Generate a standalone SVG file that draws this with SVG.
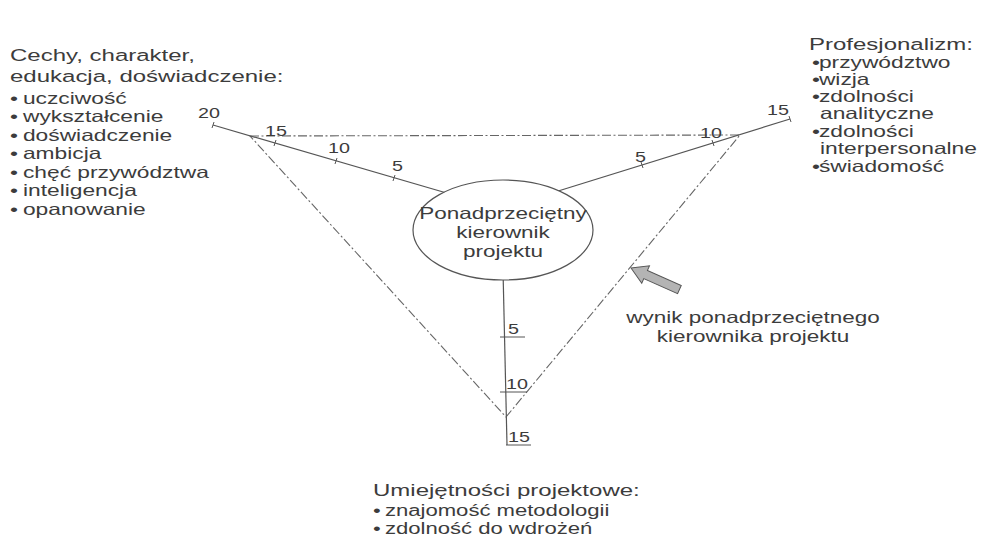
<svg xmlns="http://www.w3.org/2000/svg" width="983" height="539" viewBox="0 0 983 539">
  <style>
    text { font-family: "Liberation Sans", Arial, sans-serif; fill: #3c3c3c; }
    .h { font-size: 17.4px; }
    .b { font-size: 16.5px; }
    .s { font-size: 16px; }
    .n { font-size: 14.3px; }
    .c { font-size: 16.3px; text-anchor: middle; }
    .axis { stroke: #555; stroke-width: 1.2; fill: none; }
    .tick { stroke: #555; stroke-width: 1; fill: none; }
    .tri { stroke: #666; stroke-width: 1.1; fill: none; stroke-dasharray: 9 2.5 2 2.5; }
  </style>
  <rect width="983" height="539" fill="#fff"/>

  <!-- axes, scale ticks and the dash-dot result triangle -->
  <g id="connectors">
    <polygon class="tri" points="250,136 740,135 506,417"/>
    <line class="axis" x1="213" y1="125" x2="450" y2="194"/>
    <line class="axis" x1="555" y1="192" x2="790" y2="119"/>
    <line class="axis" x1="503" y1="270" x2="507" y2="445"/>
    <!-- left axis ticks -->
    <path class="tick" d="M214,122 L212,128 M276,140 L274,146 M337,158 L335,164 M395,175 L393,181"/>
    <!-- right axis ticks -->
    <path class="tick" d="M641,162 L643,168 M712,140 L714,146 M789,116 L791,122"/>
    <!-- bottom axis ticks -->
    <path class="tick" d="M500,337 L525,337 M500,392 L527,392 M506,445 L531,445"/>
  </g>

  <!-- scale values -->
  <g id="scale-labels">
    <g transform="translate(198 118) scale(1.38 1)"><text class="n">20</text></g>
    <g transform="translate(265 136) scale(1.38 1)"><text class="n">15</text></g>
    <g transform="translate(328 153) scale(1.38 1)"><text class="n">10</text></g>
    <g transform="translate(392 171) scale(1.38 1)"><text class="n">5</text></g>
    <g transform="translate(635 162) scale(1.38 1)"><text class="n">5</text></g>
    <g transform="translate(700 138) scale(1.38 1)"><text class="n">10</text></g>
    <g transform="translate(767 115) scale(1.38 1)"><text class="n">15</text></g>
    <g transform="translate(508 334) scale(1.38 1)"><text class="n">5</text></g>
    <g transform="translate(506 389) scale(1.38 1)"><text class="n">10</text></g>
    <g transform="translate(508 442) scale(1.38 1)"><text class="n">15</text></g>
  </g>

  <!-- central node -->
  <g id="node-center">
    <ellipse cx="503" cy="230" rx="90" ry="50" fill="#fff" stroke="#555" stroke-width="1.2"/>
    <g transform="translate(503 0) scale(1.38 1)">
      <text class="c" x="0" y="219">Ponadprzeciętny</text>
      <text class="c" x="0" y="238">kierownik</text>
      <text class="c" x="0" y="257">projektu</text>
    </g>
  </g>

  <!-- left: traits -->
  <g id="node-traits" transform="translate(10 0) scale(1.38 1)">
    <text class="h" x="0" y="61">Cechy, charakter,</text>
    <text class="h" x="0" y="82">edukacja, doświadczenie:</text>
    <text class="b" y="104"><tspan x="0">•</tspan><tspan x="9.4">uczciwość</tspan></text>
    <text class="b" y="122.5"><tspan x="0">•</tspan><tspan x="9.4">wykształcenie</tspan></text>
    <text class="b" y="141"><tspan x="0">•</tspan><tspan x="9.4">doświadczenie</tspan></text>
    <text class="b" y="159.5"><tspan x="0">•</tspan><tspan x="9.4">ambicja</tspan></text>
    <text class="b" y="178"><tspan x="0">•</tspan><tspan x="9.4">chęć przywództwa</tspan></text>
    <text class="b" y="196.5"><tspan x="0">•</tspan><tspan x="9.4">inteligencja</tspan></text>
    <text class="b" y="215"><tspan x="0">•</tspan><tspan x="9.4">opanowanie</tspan></text>
  </g>

  <!-- right: professionalism -->
  <g id="node-professionalism" transform="translate(809 0) scale(1.38 1)">
    <text class="h" x="0" y="50">Profesjonalizm:</text>
    <text class="b" y="68"><tspan x="2.2">•</tspan><tspan x="7.2">przywództwo</tspan></text>
    <text class="b" y="85"><tspan x="2.2">•</tspan><tspan x="7.2">wizja</tspan></text>
    <text class="b" y="102.5"><tspan x="2.2">•</tspan><tspan x="7.2">zdolności</tspan></text>
    <text class="b" x="8" y="119.5">analityczne</text>
    <text class="b" y="137.5"><tspan x="2.2">•</tspan><tspan x="7.2">zdolności</tspan></text>
    <text class="b" x="8" y="154.5">interpersonalne</text>
    <text class="b" y="172.5"><tspan x="2.2">•</tspan><tspan x="7.2">świadomość</tspan></text>
  </g>

  <!-- bottom: project skills -->
  <g id="node-skills" transform="translate(373 0) scale(1.38 1)">
    <text class="h" x="0" y="496">Umiejętności projektowe:</text>
    <text class="s" y="516"><tspan x="0">•</tspan><tspan x="8.7">znajomość metodologii</tspan></text>
    <text class="s" y="534"><tspan x="0">•</tspan><tspan x="8.7">zdolność do wdrożeń</tspan></text>
  </g>

  <!-- result annotation with pointer arrow -->
  <g id="node-result">
    <polygon points="0,0 16,-9.5 16,-4.5 53,-4.5 53,4.5 16,4.5 16,9.5" fill="#b4b4b4" stroke="#555" stroke-width="1" transform="translate(631 268) rotate(24)"/>
    <g transform="translate(753 0) scale(1.38 1)">
      <text class="c" x="0" y="323">wynik ponadprzeciętnego</text>
      <text class="c" x="0" y="342">kierownika projektu</text>
    </g>
  </g>
</svg>
